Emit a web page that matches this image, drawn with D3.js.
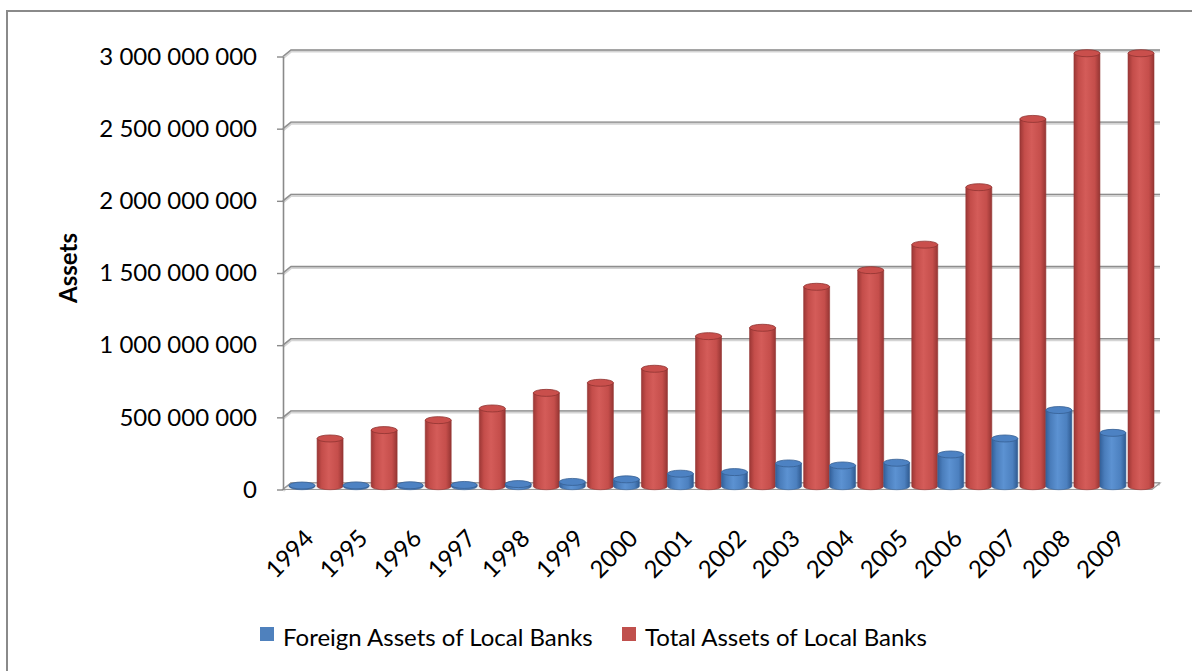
<!DOCTYPE html>
<html>
<head>
<meta charset="utf-8">
<script src="https://cdn.jsdelivr.net/npm/d3@7"></script>
<style>
  html, body { margin: 0; padding: 0; background: #ffffff; }
  svg { display: block; font-family: Lato, "Open Sans", sans-serif; }
</style>
</head>
<body>
<svg id="chart" width="1192" height="671"></svg>
<script>
// Local bank assets by year
const years = ["1994","1995","1996","1997","1998","1999","2000","2001",
               "2002","2003","2004","2005","2006","2007","2008","2009"];
const foreignAssets = [5e6, 6e6, 7e6, 9e6, 15e6, 30e6, 48e6, 87e6,
                       98e6, 158e6, 144e6, 163e6, 220e6, 331e6, 528e6, 370e6];
const totalAssets = [331e6, 389e6, 458e6, 539e6, 647e6, 717e6, 814e6, 1040e6,
                     1098e6, 1382e6, 1497e6, 1674e6, 2072e6, 2545e6, 3000e6, 3000e6];
const yTicks = [0, 5e8, 1e9, 1.5e9, 2e9, 2.5e9, 3e9];
const seriesNames = ["Foreign Assets of Local Banks", "Total Assets of Local Banks"];
const seriesColors = ["#4F81BD", "#C0504D"];

const svg = d3.select("#chart");

// outer chart frame
svg.append("rect")
  .attr("x", 7).attr("y", 11).attr("width", 1200).attr("height", 700)
  .attr("fill", "#fff").attr("stroke", "#8a8a8a").attr("stroke-width", 2);

// scales
const axisX = 283;            // front vertical axis
const DX = 8, DY = -6.5;      // depth offset of the back wall
const x = d3.scaleBand().domain(years).range([289, 1154]).paddingInner(0).paddingOuter(0);
const xs = d3.scaleBand().domain([0, 1]).range([0, x.bandwidth()]).paddingInner(0.075);
const yF = d3.scaleLinear().domain([0, 3e9]).range([489.5, 56.5]);
const yMid = v => yF(v) + DY / 2;

const fmt = d3.formatLocale({decimal: ".", thousands: " ", grouping: [3], currency: ["", ""]}).format(",d");

// gradients for the cylinder bodies
const defs = svg.append("defs");
const shades = [
  {id: "gBlue", stops: ["#33609a", "#4a7dbb", "#5c92d2", "#4c80bf", "#2f5a90"]},
  {id: "gRed",  stops: ["#9c3735", "#c44d4a", "#d45c59", "#c54e4b", "#963533"]}
];
shades.forEach(s => {
  const g = defs.append("linearGradient").attr("id", s.id)
    .attr("x1", "0%").attr("x2", "100%").attr("y1", "0%").attr("y2", "0%");
  [0, 0.18, 0.45, 0.8, 1].forEach((o, i) =>
    g.append("stop").attr("offset", o).attr("stop-color", s.stops[i]));
});

// back wall gridlines with side-wall diagonal
const grid = svg.append("g");
yTicks.forEach(v => {
  const yf = yF(v), yb = yF(v) + DY;
  const d = `M${axisX},${yf} L${axisX + DX},${yb} L1160,${yb}`;
  grid.append("path").attr("d", d).attr("fill", "none")
    .attr("stroke", "#d4d4d4").attr("stroke-width", 3.2).attr("transform", "translate(0,1)");
  grid.append("path").attr("d", d).attr("fill", "none")
    .attr("stroke", "#8e8e8e").attr("stroke-width", 1.4);
});

// floor
svg.append("path")
  .attr("d", `M${axisX},${yF(0)} L1152,${yF(0)} L1160,${yF(0) + DY} L${axisX + DX},${yF(0) + DY} Z`)
  .attr("fill", "#f2f2f2").attr("stroke", "#9a9a9a").attr("stroke-width", 1.2);

// y axis
const yAxis = svg.append("g").attr("transform", `translate(${axisX},0)`)
  .call(d3.axisLeft(yF).tickValues(yTicks).tickSize(6).tickSizeOuter(0)
        .tickPadding(20).tickFormat(fmt));
yAxis.select(".domain").attr("stroke", "#8a8a8a").attr("stroke-width", 1.6);
yAxis.selectAll(".tick line").attr("stroke", "#8a8a8a").attr("stroke-width", 1.4);
yAxis.selectAll(".tick text").attr("font-size", 24).attr("fill", "#000")
  .attr("font-family", "Lato, 'Open Sans', sans-serif");

// axis title
svg.append("text")
  .attr("transform", "translate(77,268) rotate(-90)")
  .attr("text-anchor", "middle").attr("font-size", 24).attr("font-weight", "bold")
  .attr("fill", "#000").text("Assets");

// cylinders
const bars = [];
years.forEach((yr, i) => {
  [foreignAssets[i], totalAssets[i]].forEach((v, s) => bars.push({yr, s, v}));
});
const ry = 3.5;
const gBars = svg.append("g");
bars.forEach(b => {
  const w = xs.bandwidth();
  const left = x(b.yr) + xs(b.s);
  const cx = left + w / 2;
  const top = yMid(b.v), base = yMid(0);
  const g = gBars.append("g");
  g.append("path")
    .attr("d", `M${left},${top} L${left},${base} A${w / 2},${ry} 0 0 0 ${left + w},${base} L${left + w},${top} Z`)
    .attr("fill", `url(#${b.s === 0 ? "gBlue" : "gRed"})`)
    .attr("stroke", b.s === 0 ? "#3a6498" : "#943634").attr("stroke-width", 0.6);
  g.append("ellipse")
    .attr("cx", cx).attr("cy", top).attr("rx", w / 2).attr("ry", ry)
    .attr("fill", b.s === 0 ? "#4d82c3" : "#c94f4c")
    .attr("stroke", b.s === 0 ? "#365f93" : "#8f3331").attr("stroke-width", 0.8);
});

// x axis labels
const xAxis = svg.append("g").attr("transform", "translate(0,540)")
  .call(d3.axisBottom(x).tickSize(0).tickPadding(0));
xAxis.select(".domain").remove();
xAxis.selectAll(".tick text")
  .attr("y", 0).attr("dy", 0).attr("x", 0)
  .attr("text-anchor", "end")
  .attr("transform", "translate(-1,0) rotate(-45)")
  .attr("font-size", 24).attr("fill", "#000")
  .attr("font-family", "Lato, 'Open Sans', sans-serif");

// legend
const legendItems = [
  {name: seriesNames[0], color: seriesColors[0], x: 260},
  {name: seriesNames[1], color: seriesColors[1], x: 622}
];
const legend = svg.append("g");
legendItems.forEach(it => {
  legend.append("rect").attr("x", it.x).attr("y", 627).attr("width", 14).attr("height", 14)
    .attr("fill", it.color);
  legend.append("text").attr("x", it.x + 23).attr("y", 645.5)
    .attr("font-size", 24).attr("fill", "#000").text(it.name);
});
</script>
</body>
</html>
